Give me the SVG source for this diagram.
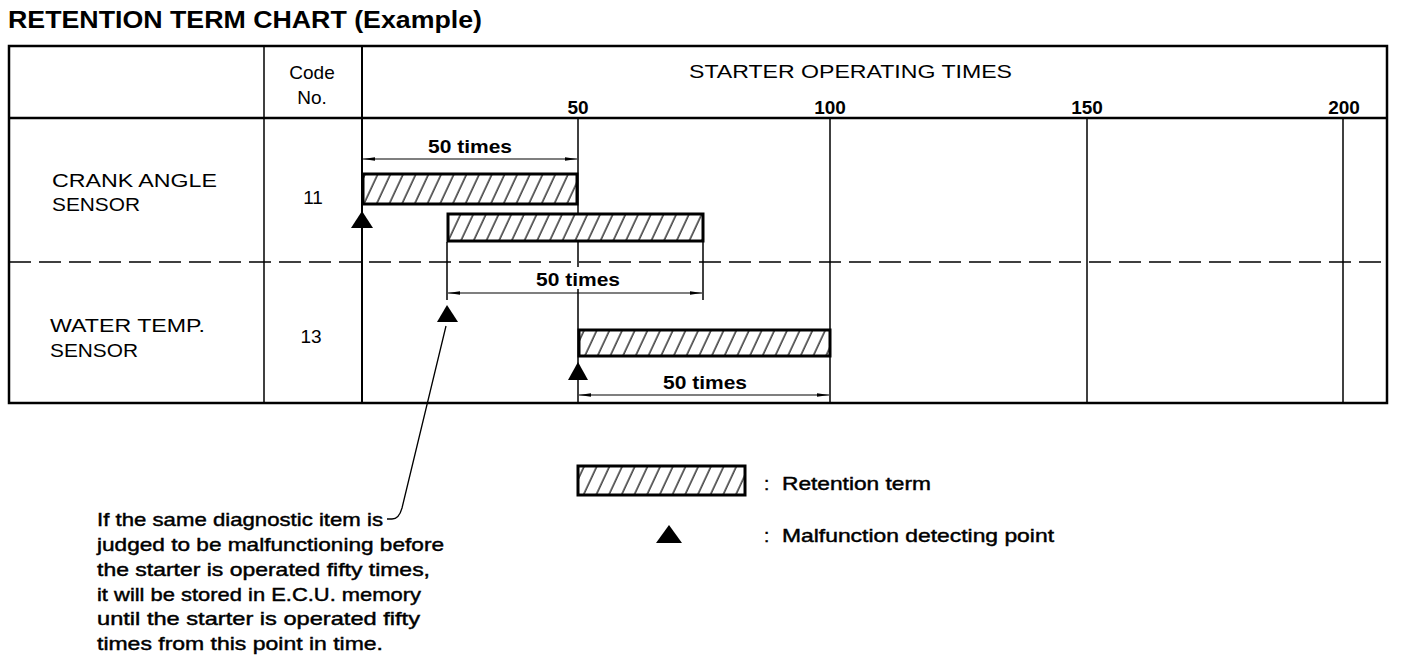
<svg xmlns="http://www.w3.org/2000/svg" width="1408" height="660" viewBox="0 0 1408 660">
<style>
text{font-family:"Liberation Sans",Arial,sans-serif;fill:#000}
.t{font-size:19px}
.m{font-size:19px;stroke:#000;stroke-width:0.45}
.b{font-size:19px;font-weight:bold}
.n{font-size:19px;font-weight:bold}
.ln{stroke:#000;stroke-width:1.5;fill:none}
.thk{stroke:#000;stroke-width:2.5;fill:none}
.bar{fill:url(#hatch);stroke:#000;stroke-width:3}
.dim{stroke:#000;stroke-width:1.2;fill:none;marker-start:url(#ah);marker-end:url(#ah)}
.tri{fill:#000}
</style>
<defs>
<pattern id="hatch" patternUnits="userSpaceOnUse" width="11.5" height="11.5" patternTransform="rotate(25)">
<rect width="11.5" height="11.5" fill="#fff"/>
<line x1="2" y1="-1" x2="2" y2="13" stroke="#000" stroke-width="1.2"/>
</pattern>
<marker id="ah" viewBox="0 0 12 6" refX="12" refY="3" markerWidth="12" markerHeight="6" markerUnits="userSpaceOnUse" orient="auto-start-reverse">
<path d="M0,1.2 L12,3 L0,4.8 Z" fill="#000"/>
</marker>
</defs>
<rect width="1408" height="660" fill="#fff"/>

<g id="title">
<text x="8" y="28" style="font-size:23px;font-weight:bold" textLength="474" lengthAdjust="spacingAndGlyphs">RETENTION TERM CHART (Example)</text>
</g>

<g id="table">
<rect x="9" y="46" width="1378" height="357" class="thk"/>
<line x1="9" y1="118" x2="1387" y2="118" class="thk"/>
<line x1="264" y1="46" x2="264" y2="403" class="ln"/>
<line x1="362" y1="46" x2="362" y2="403" class="thk" style="stroke-width:2"/>
<line x1="9" y1="262" x2="1387" y2="262" class="ln" stroke-dasharray="22 8"/>
<line x1="578" y1="118" x2="578" y2="214" class="ln"/>
<line x1="578" y1="242" x2="578" y2="267" class="ln"/>
<line x1="578" y1="289" x2="578" y2="403" class="ln"/>
<line x1="830" y1="118" x2="830" y2="403" class="ln"/>
<line x1="1087" y1="118" x2="1087" y2="403" class="ln"/>
<line x1="1343" y1="118" x2="1343" y2="403" class="ln"/>
<line x1="447" y1="242" x2="447" y2="300" class="ln"/>
<line x1="703" y1="242" x2="703" y2="300" class="ln"/>
<text x="312" y="79" class="t" text-anchor="middle">Code</text>
<text x="312" y="104" class="t" text-anchor="middle">No.</text>
<text x="689" y="78" class="t" textLength="323" lengthAdjust="spacingAndGlyphs">STARTER OPERATING TIMES</text>
<text x="578" y="114" class="n" text-anchor="middle">50</text>
<text x="830" y="114" class="n" text-anchor="middle">100</text>
<text x="1087" y="114" class="n" text-anchor="middle">150</text>
<text x="1344" y="114" class="n" text-anchor="middle">200</text>
</g>

<g id="row-crank">
<text x="52" y="187" class="t" textLength="165" lengthAdjust="spacingAndGlyphs">CRANK ANGLE</text>
<text x="52" y="211" class="t" textLength="88" lengthAdjust="spacingAndGlyphs">SENSOR</text>
<text x="313" y="204" class="t" text-anchor="middle">11</text>
<rect x="363" y="174" width="214" height="30" class="bar"/>
<rect x="448" y="214" width="255" height="27" class="bar"/>
<polygon points="362,211 351,228 373,228" class="tri"/>
</g>

<g id="row-water">
<text x="50" y="332" class="t" textLength="155" lengthAdjust="spacingAndGlyphs">WATER TEMP.</text>
<text x="50" y="357" class="t" textLength="88" lengthAdjust="spacingAndGlyphs">SENSOR</text>
<text x="311" y="343" class="t" text-anchor="middle">13</text>
<rect x="579" y="330" width="251" height="26" class="bar"/>
<polygon points="447,305 437,322 458,322" class="tri"/>
<polygon points="578,362 568,380 588,380" class="tri"/>
</g>

<g id="connectors">
<line x1="363" y1="159" x2="577" y2="159" class="dim"/>
<text x="470" y="153" class="b" text-anchor="middle" textLength="84" lengthAdjust="spacingAndGlyphs">50 times</text>
<line x1="448" y1="293" x2="702" y2="293" class="dim"/>
<text x="578" y="286" class="b" text-anchor="middle" textLength="84" lengthAdjust="spacingAndGlyphs">50 times</text>
<line x1="579" y1="395" x2="829" y2="395" class="dim"/>
<text x="705" y="389" class="b" text-anchor="middle" textLength="84" lengthAdjust="spacingAndGlyphs">50 times</text>
<path d="M446,326 L402,508 Q399,519 392,519 L387,519" class="ln" style="stroke-width:1.3"/>
</g>

<g id="legend">
<rect x="578" y="466" width="167" height="29" class="bar"/>
<text x="764" y="490" class="m">:</text>
<text x="782" y="490" class="m" textLength="149" lengthAdjust="spacingAndGlyphs">Retention term</text>
<polygon points="669,525 656,543 682,543" class="tri"/>
<text x="764" y="542" class="m">:</text>
<text x="782" y="542" class="m" textLength="272" lengthAdjust="spacingAndGlyphs">Malfunction detecting point</text>
</g>

<g id="note">
<text x="97" y="526" class="m" textLength="286" lengthAdjust="spacingAndGlyphs">If the same diagnostic item is</text>
<text x="97" y="551" class="m" textLength="347" lengthAdjust="spacingAndGlyphs">judged to be malfunctioning before</text>
<text x="97" y="576" class="m" textLength="333" lengthAdjust="spacingAndGlyphs">the starter is operated fifty times,</text>
<text x="97" y="601" class="m" textLength="324" lengthAdjust="spacingAndGlyphs">it will be stored in E.C.U. memory</text>
<text x="97" y="625" class="m" textLength="323" lengthAdjust="spacingAndGlyphs">until the starter is operated fifty</text>
<text x="97" y="650" class="m" textLength="286" lengthAdjust="spacingAndGlyphs">times from this point in time.</text>
</g>
</svg>
